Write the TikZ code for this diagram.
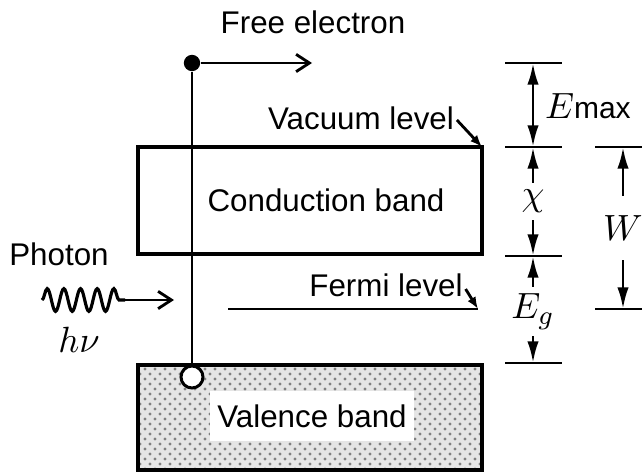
\documentclass[tikz,border=0pt]{standalone}
\usepackage{fontspec}
\setmainfont{Liberation Sans}
\usetikzlibrary{arrows.meta,patterns,decorations.pathmorphing}
\tikzset{
  lbl/.style={font=\fontsize{9.4}{11}\selectfont, inner sep=1pt},
  mth/.style={font=\fontsize{11}{13}\selectfont, inner sep=1pt},
  band/.style={line width=0.95pt},
  tick/.style={line width=0.7pt},
  dim/.style={line width=0.85pt, {Latex[length=6.5pt,width=3.4pt]}-{Latex[length=6.5pt,width=3.4pt]}},
  hook/.style={line width=0.85pt, -{Latex[length=3.6pt,width=2.8pt]}},
  barb/.style={line width=0.85pt, -{Straight Barb[length=4pt,width=5.2pt]}},
}
\begin{document}
\begin{tikzpicture}[x=0.3pt,y=-0.3pt]
  \useasboundingbox (0,0) rectangle (642,474);
  % bands
  \draw[band] (138,147) rectangle (482,254);
  \fill[gray!20] (138,365) rectangle (482,470);
  \fill[pattern=crosshatch dots, pattern color=gray] (138,365) rectangle (482,470);
  \draw[band] (138,365) rectangle (482,470);
  \node[lbl] (cbl) at (326,200) {Conduction band};
  \node[lbl, fill=white, inner xsep=2.2pt, inner ysep=4pt] (vbl) at (312,416) {Valence band};
  % levels
  \coordinate (vac) at (482,147);
  \coordinate (fermiL) at (228,309);
  \coordinate (fermiR) at (478,309);
  \draw[line width=0.8pt] (fermiL) -- (fermiR);
  \node[lbl] (vacl) at (361,118) {Vacuum level};
  \node[lbl] (fermil) at (386,285) {Fermi level};
  \draw[hook] (vacl.east) ++(-1,2) -- (vac);
  \draw[hook] (fermil.east) ++(-1,4) -- (fermiR);
  % electron and hole
  \node[circle, fill, inner sep=0pt, minimum size=4.9pt] (el) at (192,63) {};
  \node[circle, draw, fill=white, line width=0.9pt, inner sep=0pt, minimum size=6.6pt] (hole) at (192,377) {};
  \draw[line width=0.8pt] (el) -- (hole);
  \coordinate (elend) at (312,63);
  \draw[barb] (el) -- (elend);
  \node[lbl] (free) at (313,22) {Free electron};
  % photon
  \node[lbl] (phot) at (59,254) {Photon};
  \coordinate (w0) at (42,300);
  \coordinate (w1) at (125,300);
  \coordinate (w2) at (174,300);
  \draw[line width=0.95pt, decorate, decoration={snake, segment length=5pt, amplitude=3.4pt}] (w0) -- (w1);
  \draw[barb] (w1) -- (w2);
  \node[mth] (hnu) at (79,340) {$h\nu$};
  % dimensions
  \foreach \y/\n in {63/a,147/b,256/c,363/d}
    \draw[tick] (505,\y) coordinate (l\n) -- (562,\y);
  \foreach \y/\n in {147/p,309/q}
    \draw[tick] (595,\y) -- (642,\y);
  \draw[dim] (533,63) -- (533,147);
  \node[mth, anchor=west] (emax) at (541,106) {$E$\fontsize{9}{10}\selectfont max};
  \draw[dim] (533,147) -- node[mth, fill=white, inner ysep=2pt] (chi) {$\chi$} (533,256);
  \draw[dim] (533,256) -- node[mth, fill=white, inner ysep=2pt, pos=0.52] (eg) {$E_g$} (533,363);
  \draw[dim] (623,147) -- node[mth, fill=white, inner ysep=6pt] (wf) {$W$} (623,309);
\end{tikzpicture}
\end{document}
